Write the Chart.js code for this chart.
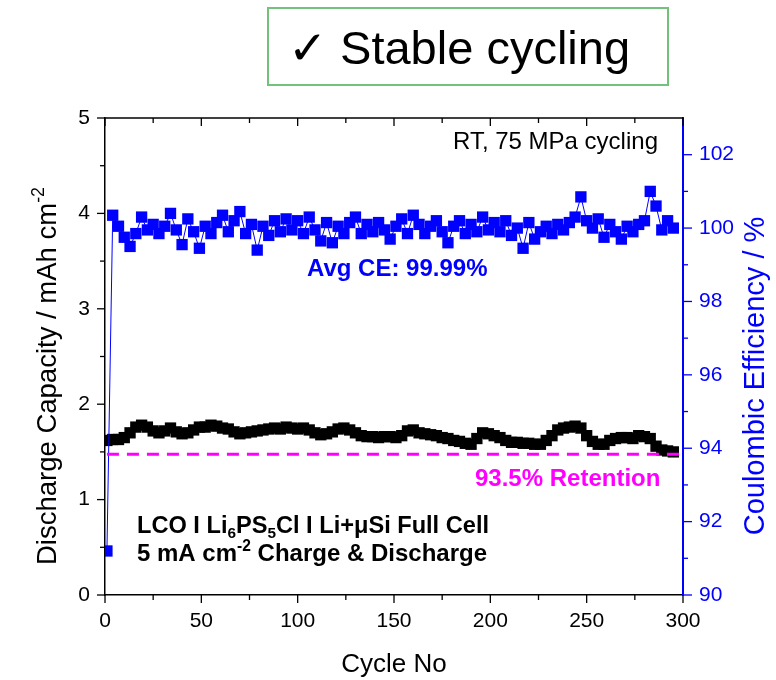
<!DOCTYPE html>
<html>
<head>
<meta charset="utf-8">
<script src="https://cdn.jsdelivr.net/npm/chart.js@4"></script>
<style>
  body { margin: 0; background: #fff; }
  #wrap { width: 776px; height: 680px; }
</style>
</head>
<body>
<div id="wrap"><canvas id="chartCanvas" width="776" height="680"></canvas></div>
<script>
// cycle numbers (every third cycle)
const cycles = [1, 4, 7, 10, 13, 16, 19, 22, 25, 28, 31, 34, 37, 40, 43, 46, 49, 52, 55, 58,
  61, 64, 67, 70, 73, 76, 79, 82, 85, 88, 91, 94, 97, 100, 103, 106, 109, 112, 115, 118,
  121, 124, 127, 130, 133, 136, 139, 142, 145, 148, 151, 154, 157, 160, 163, 166, 169, 172, 175, 178,
  181, 184, 187, 190, 193, 196, 199, 202, 205, 208, 211, 214, 217, 220, 223, 226, 229, 232, 235, 238,
  241, 244, 247, 250, 253, 256, 259, 262, 265, 268, 271, 274, 277, 280, 283, 286, 289, 292, 295];

// discharge capacity, mAh cm-2
const capacity = [1.62, 1.63, 1.63, 1.65, 1.70, 1.76, 1.78, 1.76, 1.72, 1.70,
  1.72, 1.75, 1.71, 1.69, 1.70, 1.73, 1.76, 1.76, 1.78, 1.77,
  1.75, 1.74, 1.71, 1.69, 1.70, 1.71, 1.72, 1.73, 1.74, 1.75,
  1.74, 1.76, 1.75, 1.74, 1.75, 1.73, 1.70, 1.68, 1.69, 1.71,
  1.74, 1.75, 1.73, 1.70, 1.67, 1.66, 1.66, 1.65, 1.66, 1.66,
  1.65, 1.67, 1.72, 1.73, 1.70, 1.69, 1.68, 1.67, 1.65, 1.64,
  1.62, 1.61, 1.59, 1.58, 1.64, 1.70, 1.69, 1.67, 1.65, 1.62,
  1.60, 1.60, 1.59, 1.59, 1.58, 1.58, 1.62, 1.67, 1.73, 1.75,
  1.76, 1.77, 1.75, 1.67, 1.61, 1.58, 1.58, 1.62, 1.64, 1.65,
  1.65, 1.64, 1.67, 1.66, 1.64, 1.56, 1.52, 1.51, 1.50];

// coulombic efficiency, %
const efficiency = [91.2, 100.35, 100.05, 99.75, 99.5, 99.85, 100.3, 99.95, 100.1, 99.85,
  100.05, 100.4, 99.95, 99.55, 100.25, 99.9, 99.45, 100.05, 99.85, 100.15,
  100.35, 99.9, 100.2, 100.45, 99.85, 100.1, 99.4, 100.05, 99.8, 100.2,
  99.9, 100.25, 99.95, 100.2, 99.85, 100.3, 99.95, 99.65, 100.15, 99.6,
  100.05, 99.85, 100.15, 100.3, 99.85, 100.1, 99.9, 100.15, 99.95, 99.7,
  100.05, 100.25, 99.85, 100.35, 100.1, 99.85, 100.05, 100.2, 99.9, 99.6,
  100.05, 100.2, 99.85, 100.1, 99.9, 100.3, 99.95, 100.15, 99.9, 100.2,
  99.8, 100.0, 99.45, 100.15, 99.7, 99.9, 100.05, 99.85, 100.1, 99.95,
  100.15, 100.3, 100.85, 100.2, 100.0, 100.25, 99.75, 100.1, 99.9, 99.7,
  100.05, 99.9, 100.1, 100.2, 101.0, 100.6, 99.95, 100.2, 100.0];

// 93.5 % retention level and its extent
const retentionLevel = 1.475;
const retentionSpan = [1, 298];

const xTicks = [0, 50, 100, 150, 200, 250, 300];
const capTicks = [0, 1, 2, 3, 4, 5];
const ceTicks = [90, 92, 94, 96, 98, 100, 102];

const FONT = '"Liberation Sans", Arial, sans-serif';
const BLUE = '#0000ff';
const MAGENTA = '#ff00ff';

// draws a row of text pieces, some of them sub- or superscript
function drawRuns(ctx, runs, x, y, size, weight, align) {
  const w = runs.map(r => {
    const s = r.pos ? size * 0.65 : size;
    ctx.font = `${weight} ${s}px ${FONT}`;
    return ctx.measureText(r.t).width;
  });
  const total = w.reduce((a, b) => a + b, 0);
  let cx = align === 'center' ? x - total / 2 : x;
  ctx.textAlign = 'left';
  ctx.textBaseline = 'alphabetic';
  runs.forEach((r, i) => {
    const s = r.pos ? size * 0.65 : size;
    ctx.font = `${weight} ${s}px ${FONT}`;
    let dy = 0;
    if (r.pos === 'sub') dy = size * 0.2;
    if (r.pos === 'sup') dy = -size * 0.42;
    ctx.fillText(r.t, cx, y + dy);
    cx += w[i];
  });
}

function tickSet(majors) {
  const minors = [];
  for (let i = 0; i < majors.length - 1; i++) minors.push((majors[i] + majors[i + 1]) / 2);
  return minors;
}

const decorations = {
  id: 'decorations',
  afterDraw(chart) {
    const { ctx, chartArea: a, scales } = chart;
    ctx.save();

    // top frame line
    ctx.strokeStyle = '#000';
    ctx.lineWidth = 1.5;
    ctx.beginPath();
    ctx.moveTo(a.left, a.top);
    ctx.lineTo(a.right, a.top);
    ctx.stroke();

    // tick marks
    const tick = (x1, y1, x2, y2) => { ctx.beginPath(); ctx.moveTo(x1, y1); ctx.lineTo(x2, y2); ctx.stroke(); };
    ctx.lineWidth = 1.3;
    xTicks.forEach(v => {
      const px = scales.x.getPixelForValue(v);
      tick(px, a.bottom, px, a.bottom + 8);
      tick(px, a.top, px, a.top + 8);
    });
    tickSet(xTicks).forEach(v => {
      const px = scales.x.getPixelForValue(v);
      tick(px, a.bottom, px, a.bottom + 5);
      tick(px, a.top, px, a.top + 5);
    });
    capTicks.forEach(v => {
      const py = scales.y.getPixelForValue(v);
      tick(a.left - 8, py, a.left, py);
    });
    tickSet(capTicks).forEach(v => {
      const py = scales.y.getPixelForValue(v);
      tick(a.left - 5, py, a.left, py);
    });
    ctx.strokeStyle = BLUE;
    ceTicks.forEach(v => {
      const py = scales.y1.getPixelForValue(v);
      tick(a.right, py, a.right + 9, py);
    });
    tickSet(ceTicks).forEach(v => {
      const py = scales.y1.getPixelForValue(v);
      tick(a.right, py, a.right + 5, py);
    });

    // axis titles
    ctx.fillStyle = '#000';
    drawRuns(ctx, [{ t: 'Cycle No' }], 394, 672, 26, 'normal', 'center');
    ctx.save();
    ctx.translate(56, 376);
    ctx.rotate(-Math.PI / 2);
    drawRuns(ctx, [{ t: 'Discharge Capacity / mAh cm' }, { t: '-2', pos: 'sup' }], 0, 0, 27.5, 'normal', 'center');
    ctx.restore();
    ctx.save();
    ctx.fillStyle = BLUE;
    ctx.translate(764, 376);
    ctx.rotate(-Math.PI / 2);
    drawRuns(ctx, [{ t: 'Coulombic Efficiency / %' }], 0, 0, 29, 'normal', 'center');
    ctx.restore();

    // annotations
    ctx.fillStyle = '#000';
    drawRuns(ctx, [{ t: 'RT, 75 MPa cycling' }], 453, 149, 24, 'normal', 'left');
    ctx.fillStyle = BLUE;
    drawRuns(ctx, [{ t: 'Avg CE: 99.99%' }], 307, 276, 24, 'bold', 'left');
    ctx.fillStyle = MAGENTA;
    drawRuns(ctx, [{ t: '93.5% Retention' }], 475, 486, 24, 'bold', 'left');
    ctx.fillStyle = '#000';
    drawRuns(ctx, [{ t: 'LCO I Li' }, { t: '6', pos: 'sub' }, { t: 'PS' }, { t: '5', pos: 'sub' },
      { t: 'Cl I Li+\u03bcSi Full Cell' }], 137, 533, 23.6, 'bold', 'left');
    drawRuns(ctx, [{ t: '5 mA cm' }, { t: '-2', pos: 'sup' }, { t: ' Charge & Discharge' }],
      137, 561, 24, 'bold', 'left');

    // header box
    ctx.strokeStyle = '#74c17c';
    ctx.lineWidth = 2;
    ctx.strokeRect(268, 8, 400, 77);
    drawRuns(ctx, [{ t: '\u2713 Stable cycling' }], 288, 64, 47, 'normal', 'left');

    ctx.restore();
  }
};

const ctx = document.getElementById('chartCanvas').getContext('2d');
new Chart(ctx, {
  type: 'line',
  data: {
    datasets: [{
      label: 'Retention',
      data: retentionSpan.map(c => ({ x: c, y: retentionLevel })),
      yAxisID: 'y',
      borderColor: MAGENTA,
      borderWidth: 3,
      borderDash: [12, 8],
      pointRadius: 0
    }, {
      label: 'Coulombic Efficiency',
      data: cycles.map((c, i) => ({ x: c, y: efficiency[i] })),
      yAxisID: 'y1',
      borderColor: BLUE,
      borderWidth: 1,
      pointStyle: 'rect',
      pointRadius: 8,
      pointBorderWidth: 0,
      pointBackgroundColor: BLUE
    }, {
      label: 'Discharge Capacity',
      data: cycles.map((c, i) => ({ x: c, y: capacity[i] })),
      yAxisID: 'y',
      borderColor: '#000',
      borderWidth: 1,
      pointStyle: 'rect',
      pointRadius: 8,
      pointBorderWidth: 0,
      pointBackgroundColor: '#000'
    }]
  },
  options: {
    responsive: false,
    animation: false,
    devicePixelRatio: 1,
    layout: { padding: { top: 118, left: 0, right: 0, bottom: 0 } },
    plugins: { legend: { display: false }, tooltip: { enabled: false } },
    scales: {
      x: {
        type: 'linear',
        min: 0, max: 300,
        afterBuildTicks: s => { s.ticks = xTicks.map(v => ({ value: v })); },
        afterFit: s => { s.height = 85; },
        grid: { display: false, drawTicks: false },
        border: { display: true, color: '#000', width: 1.5 },
        ticks: { color: '#000', font: { family: FONT, size: 21 }, padding: 14, maxRotation: 0 }
      },
      y: {
        position: 'left',
        min: 0, max: 5,
        afterBuildTicks: s => { s.ticks = capTicks.map(v => ({ value: v })); },
        afterFit: s => { s.width = 105; },
        grid: { display: false, drawTicks: false },
        border: { display: true, color: '#000', width: 1.5 },
        ticks: { color: '#000', font: { family: FONT, size: 21 }, padding: 15 }
      },
      y1: {
        position: 'right',
        min: 90, max: 103,
        afterBuildTicks: s => { s.ticks = ceTicks.map(v => ({ value: v })); },
        afterFit: s => { s.width = 93; },
        grid: { display: false, drawTicks: false },
        border: { display: true, color: BLUE, width: 2 },
        ticks: { color: BLUE, font: { family: FONT, size: 21 }, padding: 16 }
      }
    }
  },
  plugins: [decorations]
});
</script>
</body>
</html>
